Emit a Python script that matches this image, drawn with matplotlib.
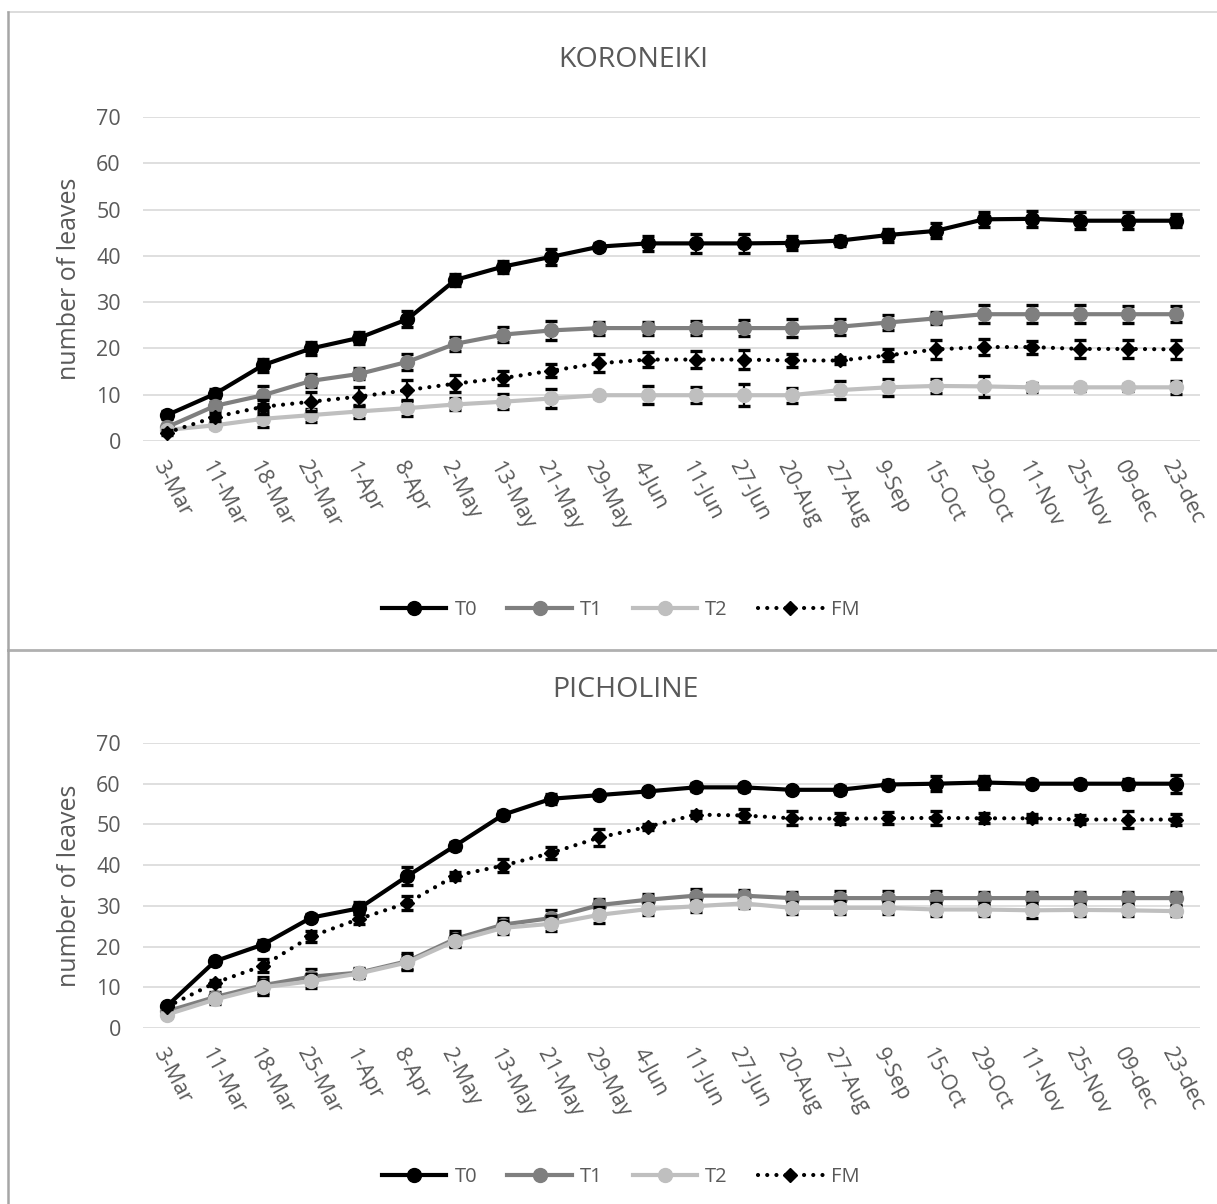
import numpy as np
import matplotlib
matplotlib.use("Agg")
import matplotlib.pyplot as plt
from matplotlib.lines import Line2D

plt.rcParams['font.family'] = ['Open Sans', 'DejaVu Sans']

dates = ["3-Mar", "11-Mar", "18-Mar", "25-Mar", "1-Apr", "8-Apr", "2-May", "13-May",
         "21-May", "29-May", "4-Jun", "11-Jun", "27-Jun", "20-Aug", "27-Aug", "9-Sep",
         "15-Oct", "29-Oct", "11-Nov", "25-Nov", "09-dec", "23-dec"]
series_names = ["T0", "T1", "T2", "FM"]

# KORONEIKI
t0_k = [5.6, 10.2, 16.4, 20.0, 22.3, 26.3, 34.8, 37.7, 39.8, 42.0, 42.7, 42.7, 42.7, 42.8, 43.3, 44.5, 45.4, 47.9, 48.0, 47.6, 47.6, 47.6]
t0_k_err = [0.8, 1.0, 1.4, 1.4, 1.3, 1.7, 1.2, 1.3, 1.7, 0.7, 1.6, 2.1, 2.1, 1.6, 1.1, 1.4, 1.6, 1.6, 1.8, 1.8, 1.8, 1.4]
t1_k = [3.0, 7.6, 9.9, 13.0, 14.5, 17.1, 21.0, 23.0, 23.9, 24.4, 24.4, 24.4, 24.4, 24.4, 24.7, 25.6, 26.5, 27.4, 27.4, 27.4, 27.4, 27.4]
t1_k_err = [0.6, 0.8, 2.0, 1.4, 1.2, 1.8, 1.5, 1.6, 2.1, 1.4, 1.4, 1.6, 1.8, 1.9, 1.7, 1.7, 1.3, 2.0, 2.0, 2.0, 1.8, 1.7]
t2_k = [2.4, 3.4, 4.8, 5.6, 6.4, 7.1, 7.9, 8.5, 9.2, 9.9, 9.9, 9.9, 9.9, 9.9, 11.0, 11.6, 11.9, 11.8, 11.6, 11.6, 11.6, 11.6]
t2_k_err = [0.5, 0.6, 1.7, 1.4, 1.4, 1.6, 1.3, 1.6, 2.1, 0.5, 1.9, 1.7, 2.4, 1.6, 2.0, 1.8, 1.6, 2.2, 1.0, 0.8, 0.8, 1.4]
fm_k = [1.8, 5.2, 7.4, 8.5, 9.6, 11.0, 12.4, 13.6, 15.2, 16.8, 17.6, 17.6, 17.6, 17.4, 17.4, 18.5, 19.8, 20.3, 20.3, 19.9, 19.9, 19.8]
fm_k_err = [0.5, 0.8, 1.5, 2.1, 2.0, 2.1, 1.9, 1.5, 1.4, 1.9, 1.6, 1.9, 2.0, 1.4, 0.7, 1.3, 2.0, 1.7, 1.4, 2.0, 1.9, 2.0]

# PICHOLINE
t0_p = [5.4, 16.4, 20.5, 27.1, 29.4, 37.3, 44.8, 52.4, 56.3, 57.2, 58.1, 59.1, 59.1, 58.5, 58.5, 59.8, 60.0, 60.3, 60.0, 60.0, 60.0, 60.0]
t0_p_err = [0.5, 0.8, 1.0, 0.8, 1.5, 2.2, 1.0, 1.0, 1.2, 0.5, 0.6, 1.0, 0.8, 0.5, 1.0, 1.2, 1.8, 1.5, 0.8, 1.0, 1.2, 2.2]
t1_p = [4.1, 7.6, 10.5, 12.6, 13.6, 16.4, 21.9, 25.4, 27.0, 30.2, 31.5, 32.5, 32.5, 31.9, 31.9, 31.9, 31.9, 31.9, 31.9, 31.9, 31.9, 31.9]
t1_p_err = [0.5, 1.2, 2.0, 1.8, 1.2, 2.0, 1.8, 1.6, 2.0, 1.6, 1.5, 1.6, 1.5, 1.6, 1.8, 1.8, 1.8, 1.6, 1.6, 1.6, 1.6, 1.6]
t2_p = [3.3, 7.0, 10.0, 11.5, 13.4, 16.1, 21.4, 24.6, 25.6, 27.8, 29.2, 29.9, 30.6, 29.5, 29.5, 29.5, 29.1, 29.1, 28.9, 29.0, 28.9, 28.7]
t2_p_err = [0.5, 1.0, 1.8, 1.8, 1.2, 1.8, 1.6, 1.6, 1.8, 2.0, 1.5, 1.5, 1.2, 1.5, 1.6, 1.5, 1.5, 1.5, 1.8, 1.5, 1.5, 1.2]
fm_p = [5.2, 11.1, 15.3, 22.5, 26.8, 30.7, 37.4, 39.9, 43.0, 46.8, 49.4, 52.4, 52.2, 51.5, 51.4, 51.5, 51.6, 51.5, 51.5, 51.2, 51.2, 51.2]
fm_p_err = [0.5, 0.8, 1.6, 1.3, 1.3, 1.8, 1.0, 1.6, 1.4, 2.0, 0.8, 0.8, 1.6, 1.7, 1.4, 1.5, 1.8, 1.2, 1.0, 1.0, 2.0, 1.4]

colors = ["black", "#7f7f7f", "#bfbfbf", "black"]
markers = ["o", "o", "o", "D"]
msizes = [10, 10, 10, 7.5]
dotted = (0, (0.01, 2.2))
styles = ["-", "-", "-", dotted]
text_col = "#595959"


def draw_panel(ax, vals, errs):
    x = np.arange(len(dates))
    for i in range(4):
        ax.errorbar(x, vals[i], yerr=errs[i], color=colors[i], ecolor="black",
                    elinewidth=1.6, capsize=4.5, capthick=2.4, linestyle=styles[i],
                    linewidth=3.0, marker=markers[i], markersize=msizes[i],
                    dash_capstyle="round", zorder=3 + i)
    ax.set_xlim(-0.5, len(dates) - 0.5)
    ax.set_ylim(0, 70)
    ax.set_yticks(range(0, 71, 10))
    ax.set_xticks(x)
    ax.set_xticklabels(dates, rotation=-62, ha="left", va="top",
                       rotation_mode="anchor")
    ax.tick_params(axis="both", length=0, labelsize=15.5, colors=text_col)
    ax.tick_params(axis="x", pad=12)
    ax.tick_params(axis="y", pad=16)
    ax.grid(axis="y", color="#d9d9d9", linewidth=1.2)
    ax.set_axisbelow(True)
    for s in ax.spines.values():
        s.set_visible(False)
    ax.set_ylabel("number of leaves", fontsize=18, color=text_col, labelpad=10)


fig = plt.figure(figsize=(12.17, 12.04), dpi=100)
ax1 = fig.add_axes([0.1175, 0.6337, 0.8686, 0.2691])
ax2 = fig.add_axes([0.1175, 0.1462, 0.8686, 0.2367])

draw_panel(ax1, [t0_k, t1_k, t2_k, fm_k], [t0_k_err, t1_k_err, t2_k_err, fm_k_err])
draw_panel(ax2, [t0_p, t1_p, t2_p, fm_p], [t0_p_err, t1_p_err, t2_p_err, fm_p_err])

W, H = 1217.0, 1204.0
fig.text(633 / W, 1 - 60 / H, "KORONEIKI", fontsize=20.5, color=text_col, ha="center", va="center")
fig.text(625 / W, 1 - 690 / H, "PICHOLINE", fontsize=20.5, color=text_col, ha="center", va="center")

handles = [Line2D([0], [0], color=colors[i], linestyle=styles[i], linewidth=3.0,
                  marker=markers[i], markersize=msizes[i], dash_capstyle="round")
           for i in range(4)]
for y in [0.4934, 0.0224]:
    fig.legend(handles, series_names, loc="center", bbox_to_anchor=(0.51, y),
               ncol=4, frameon=False, fontsize=14.5, handlelength=3.2,
               columnspacing=1.5, handletextpad=0.4, labelcolor=text_col)

# chart frames
fig.add_artist(Line2D([8 / W, 1], [1 - 12 / H, 1 - 12 / H], color="#d6d6d6", linewidth=1.2))
fig.add_artist(Line2D([8 / W, 8 / W], [1 - 12 / H, 1 - 650 / H], color="#a6a6a6", linewidth=1.8))
fig.add_artist(Line2D([8 / W, 1], [1 - 650 / H, 1 - 650 / H], color="#b0b0b0", linewidth=2.0))
fig.add_artist(Line2D([8 / W, 8 / W], [1 - 650 / H, 0], color="#a6a6a6", linewidth=1.8))

fig.savefig("out.png", dpi=100)
